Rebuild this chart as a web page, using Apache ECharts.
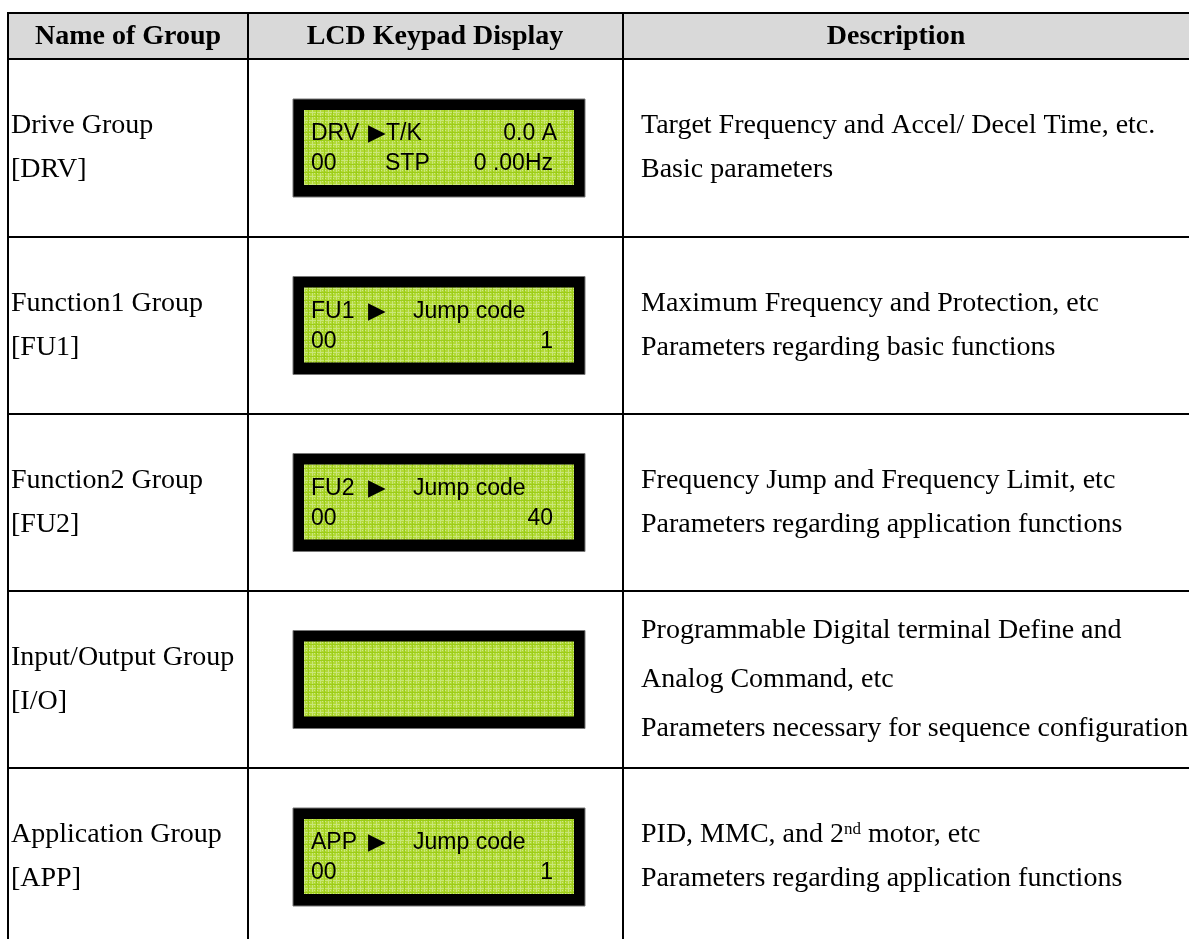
<!DOCTYPE html>
<html><head><meta charset="utf-8">
<script src="https://cdn.jsdelivr.net/npm/echarts@6/dist/echarts.min.js"></script>
<style>html,body{margin:0;padding:0;background:#fff}#c{width:1189px;height:939px}</style>
</head><body><div id="c"></div>
<script>
// ---------- content ----------
const headers = ['Name of Group', 'LCD Keypad Display', 'Description'];
const groupNames = ['Drive Group', 'Function1 Group', 'Function2 Group', 'Input/Output Group', 'Application Group'];
const groupCodes = ['[DRV]', '[FU1]', '[FU2]', '[I/O]', '[APP]'];
const lcdTag = ['DRV', 'FU1', 'FU2', '', 'APP'];
const lcdArrow = ['\u25B6T/K', '\u25B6', '\u25B6', '', '\u25B6'];
const lcdTitle = ['', 'Jump code', 'Jump code', '', 'Jump code'];
const lcdTopRight = ['0.0 A', '', '', '', ''];
const lcdCode = ['00', '00', '00', '', '00'];
const lcdState = ['STP', '', '', '', ''];
const lcdValue = ['0 .00Hz', '1', '40', '', '1'];
const descriptions = [
  ['Target Frequency and Accel/ Decel Time, etc.', 'Basic parameters'],
  ['Maximum Frequency and Protection, etc', 'Parameters regarding basic functions'],
  ['Frequency Jump and Frequency Limit, etc', 'Parameters regarding application functions'],
  ['Programmable Digital terminal Define and', 'Analog Command, etc', 'Parameters necessary for sequence configuration'],
  ['PID, MMC, and 2{sup|nd} motor, etc', 'Parameters regarding application functions']
];

// ---------- layout ----------
const W = 1189, H = 939;
const colX = [8, 248, 623, 1195];
const headerCenterX = [128, 435, 896];
const rowY = [13, 59, 237, 414, 591, 768, 946];
const lcdLeft = 293, lcdW = 292, lcdH = 98;
const lineGap = 44, lineGap3 = 49;

function makePattern() {
  const c = document.createElement('canvas');
  c.width = 8; c.height = 8;
  const g = c.getContext('2d');
  g.fillStyle = '#b2d936'; g.fillRect(0, 0, 8, 8);
  g.fillStyle = '#c9e67a'; g.fillRect(0, 0, 8, 1); g.fillRect(0, 0, 1, 8);
  g.fillStyle = '#cfe98a'; g.fillRect(2, 2, 1, 1); g.fillRect(5, 5, 1, 1); g.fillRect(2, 5, 1, 1); g.fillRect(5, 2, 1, 1);
  g.fillStyle = '#9ccd18'; g.fillRect(4, 0, 1, 8); g.fillRect(0, 4, 8, 1);
  return c;
}
const pattern = makePattern();

const serif = '"Liberation Serif", "Times New Roman", serif';
const sans = '"Liberation Sans", Arial, sans-serif';
const rowIdx = groupNames.map((_, i) => i);

const chart = echarts.init(document.getElementById('c'), null, {renderer: 'canvas'});
chart.setOption({
  animation: false,
  backgroundColor: '#ffffff',
  grid: {left: 0, right: 0, top: 0, bottom: 0},
  xAxis: {type: 'value', min: 0, max: W, show: false},
  yAxis: {type: 'value', min: 0, max: H, inverse: true, show: false},
  series: [
    {
      type: 'custom', data: [0], clip: false,
      renderItem: function (p, api) {
        const ch = [];
        const tl = api.coord([colX[0], rowY[0]]);
        const br = api.coord([colX[3], rowY[1]]);
        ch.push({type: 'rect', shape: {x: tl[0], y: tl[1], width: br[0] - tl[0], height: br[1] - tl[1]}, style: {fill: '#d9d9d9'}});
        for (let r = 0; r < rowY.length; r++) {
          const a = api.coord([colX[0], rowY[r]]), b = api.coord([colX[3], rowY[r]]);
          ch.push({type: 'line', shape: {x1: a[0] - 1, y1: a[1], x2: b[0], y2: b[1]}, style: {stroke: '#000', lineWidth: 2}});
        }
        for (let c = 0; c < colX.length; c++) {
          const a = api.coord([colX[c], rowY[0]]), b = api.coord([colX[c], rowY[rowY.length - 1]]);
          ch.push({type: 'line', shape: {x1: a[0], y1: a[1] - 1, x2: b[0], y2: b[1]}, style: {stroke: '#000', lineWidth: 2}});
        }
        headers.forEach((h, i) => {
          const pt = api.coord([headerCenterX[i], (rowY[0] + rowY[1]) / 2 + 1]);
          ch.push({type: 'text', x: pt[0], y: pt[1], style: {text: h, font: 'bold 28px ' + serif, fill: '#000', align: 'center', verticalAlign: 'middle'}});
        });
        return {type: 'group', children: ch};
      }
    },
    {
      type: 'custom', data: rowIdx, clip: false,
      renderItem: function (p, api) {
        const i = api.value(0);
        const ch = [];
        const mid = (rowY[i + 1] + rowY[i + 2]) / 2;
        const n1 = api.coord([colX[0] + 3, mid - lineGap / 2]);
        const n2 = api.coord([colX[0] + 3, mid + lineGap / 2]);
        ch.push({type: 'text', x: n1[0], y: n1[1], style: {text: groupNames[i], font: '28px ' + serif, fill: '#000', verticalAlign: 'middle'}});
        ch.push({type: 'text', x: n2[0], y: n2[1], style: {text: groupCodes[i], font: '28px ' + serif, fill: '#000', verticalAlign: 'middle'}});
        // LCD
        const lt = api.coord([lcdLeft, mid - lcdH / 2]);
        const lb = api.coord([lcdLeft + lcdW, mid + lcdH / 2]);
        const w = lb[0] - lt[0], h = lb[1] - lt[1];
        ch.push({type: 'rect', shape: {x: lt[0], y: lt[1], width: w, height: h}, style: {fill: '#000', stroke: '#777', lineWidth: 1}});
        ch.push({type: 'rect', shape: {x: lt[0] + 11, y: lt[1] + 11, width: w - 22, height: h - 23}, style: {fill: {image: pattern, repeat: 'repeat'}}});
        const y1 = lt[1] + 35, y2 = lt[1] + 65;
        const lf = '23px ' + sans;
        const txt = (t, x, y, al) => { if (t) ch.push({type: 'text', x: x, y: y, style: {text: t, font: lf, fill: '#000', align: al, verticalAlign: 'middle'}}); };
        txt(lcdTag[i], lt[0] + 18, y1, 'left');
        txt(lcdArrow[i], lt[0] + 75, y1, 'left');
        txt(lcdTitle[i], lt[0] + 120, y1, 'left');
        txt(lcdTopRight[i], lt[0] + 264, y1, 'right');
        txt(lcdCode[i], lt[0] + 18, y2, 'left');
        txt(lcdState[i], lt[0] + 92, y2, 'left');
        txt(lcdValue[i], lt[0] + 260, y2, 'right');
        // description
        const d = descriptions[i];
        const g = d.length > 2 ? lineGap3 : lineGap;
        d.forEach((line, k) => {
          const pt = api.coord([colX[2] + 18, mid + (k - (d.length - 1) / 2) * g]);
          ch.push({type: 'text', x: pt[0], y: pt[1], style: {text: line, font: '28px ' + serif, fill: '#000', verticalAlign: 'middle',
            rich: {sup: {fontSize: 17, fontFamily: serif, lineHeight: 17, verticalAlign: 'top'}}}});
        });
        return {type: 'group', children: ch};
      }
    }
  ]
});
</script></body></html>
